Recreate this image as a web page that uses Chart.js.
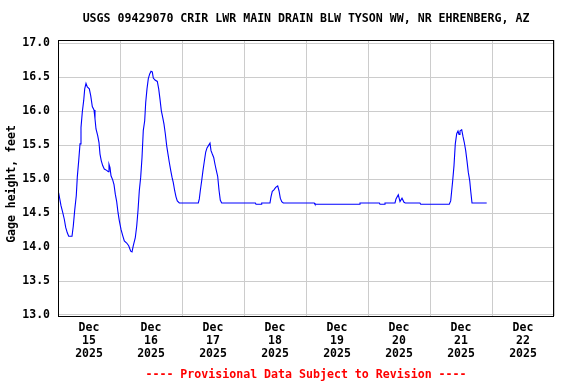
<!DOCTYPE html>
<html>
<head>
<meta charset="utf-8">
<script src="https://cdn.jsdelivr.net/npm/chart.js@4.4.1/dist/chart.umd.min.js"></script>
<style>
html,body{margin:0;padding:0;background:#fff;}
canvas{display:block;}
</style>
</head>
<body>
<canvas id="c" width="576" height="384"></canvas>
<script>
// ---- data (hours since Dec 15 2025 00:00, gage height in feet) ----
const hoursSinceStart = [0.25,1.16,1.82,2.44,2.98,3.60,4.14,5.42,5.92,6.46,7.08,7.47,8.01,8.52,8.90,9.41,9.95,10.34,10.84,11.34,12.12,12.66,13.28,13.94,14.32,14.71,15.37,15.87,16.26,16.76,17.30,17.92,18.85,19.47,19.74,20.13,20.52,21.17,21.68,22.18,22.72,23.23,23.73,24.39,25.05,25.67,26.59,27.37,28.14,28.65,29.15,29.92,30.47,30.97,31.47,32.01,32.52,33.02,33.56,33.95,34.45,34.96,35.50,36.00,36.50,36.89,37.55,38.44,38.98,39.48,39.99,40.53,41.03,41.54,42.08,42.58,43.08,43.63,44.13,44.63,45.17,45.68,46.18,46.96,54.31,54.70,55.08,55.63,56.13,56.63,57.18,57.68,58.18,58.84,59.23,59.73,60.27,60.77,61.28,61.82,62.32,62.83,63.37,76.4,76.65,78.6,78.85,82.06,82.45,82.95,83.50,84.27,85.04,85.55,86.05,86.60,87.21,99.2,99.48,116.6,116.9,124.4,124.65,126.3,126.58,130.45,130.84,131.73,132.39,133.16,133.94,134.44,140.1,140.4,151.47,152.01,152.40,152.79,153.29,153.79,154.34,154.84,155.23,155.61,156.27,156.77,157.28,157.82,158.32,158.83,159.37,159.75,160.26,165.95];
const gageHeight = [14.80,14.61,14.51,14.41,14.29,14.21,14.16,14.16,14.31,14.54,14.76,15.03,15.27,15.52,15.76,15.99,16.16,16.33,16.41,16.36,16.33,16.23,16.07,16.02,15.89,15.74,15.64,15.54,15.37,15.27,15.20,15.15,15.13,15.11,15.22,15.17,15.05,14.99,14.92,14.78,14.67,14.51,14.39,14.26,14.17,14.09,14.06,14.02,13.94,13.93,14.02,14.14,14.31,14.54,14.83,15.03,15.32,15.72,15.86,16.13,16.33,16.48,16.55,16.59,16.58,16.49,16.46,16.44,16.33,16.18,16.01,15.91,15.81,15.67,15.49,15.37,15.25,15.13,15.03,14.95,14.83,14.74,14.68,14.65,14.65,14.71,14.83,14.98,15.13,15.26,15.40,15.46,15.49,15.53,15.42,15.37,15.32,15.22,15.13,15.04,14.84,14.69,14.65,14.65,14.63,14.63,14.65,14.65,14.74,14.82,14.84,14.88,14.90,14.83,14.72,14.67,14.65,14.65,14.63,14.63,14.65,14.65,14.63,14.63,14.65,14.65,14.71,14.77,14.67,14.72,14.66,14.65,14.65,14.63,14.63,14.68,14.83,14.98,15.20,15.52,15.67,15.71,15.66,15.71,15.73,15.63,15.54,15.42,15.27,15.10,14.98,14.83,14.65,14.65];
const dayLabels = ['15','16','17','18','19','20','21','22'];
const monthLabel = 'Dec';
const yearLabel = '2025';
const yTickValues = [13.0,13.5,14.0,14.5,15.0,15.5,16.0,16.5,17.0];
const titleText = 'USGS 09429070 CRIR LWR MAIN DRAIN BLW TYSON WW, NR EHRENBERG, AZ';
const yAxisTitle = 'Gage height, feet';
const footerText = '---- Provisional Data Subject to Revision ----';

const FONT = '"DejaVu Sans Mono", "Liberation Mono", monospace';
const points = hoursSinceStart.map((h, i) => ({x: h, y: gageHeight[i]}));
const dayMidnights = dayLabels.map((d, i) => i * 24).concat([dayLabels.length * 24]);
const dayNoons = dayLabels.map((d, i) => i * 24 + 12);

const decorPlugin = {
  id: 'decor',
  afterDraw(chart) {
    const ctx = chart.ctx;
    const a = chart.chartArea;
    ctx.save();
    ctx.strokeStyle = '#000';
    ctx.lineWidth = 1;
    ctx.strokeRect(Math.round(a.left) + 0.5, Math.round(a.top) + 0.5,
                   Math.round(a.right - a.left) - 1, Math.round(a.bottom - a.top));
    ctx.fillStyle = '#000';
    ctx.font = 'bold 11.6px ' + FONT;
    ctx.textAlign = 'center';
    ctx.textBaseline = 'middle';
    ctx.fillText(titleText, (a.left + a.right) / 2, 19);
    ctx.fillStyle = '#ff0000';
    ctx.fillText(footerText, (a.left + a.right) / 2, 375);
    ctx.fillStyle = '#000';
    ctx.translate(12, 184);
    ctx.rotate(-Math.PI / 2);
    ctx.font = 'bold 11.5px ' + FONT;
    ctx.fillText(yAxisTitle, 0, 0);
    ctx.restore();
  }
};

new Chart(document.getElementById('c'), {
  type: 'line',
  data: {
    datasets: [{
      data: points,
      borderColor: '#0000ff',
      borderWidth: 1.1,
      pointRadius: 0,
      tension: 0,
      fill: false,
      xAxisID: 'x',
      yAxisID: 'y'
    }]
  },
  options: {
    responsive: false,
    animation: false,
    devicePixelRatio: 1,
    layout: { padding: { top: 40, right: 22, bottom: 0, left: 0 } },
    plugins: { legend: { display: false }, tooltip: { enabled: false }, title: { display: false } },
    scales: {
      x: {
        type: 'linear', position: 'bottom', min: 0, max: 192,
        afterBuildTicks(s) { s.ticks = dayMidnights.map(v => ({value: v})); },
        afterFit(s) { s.height = 0; },
        ticks: { display: false },
        grid: { color: '#cccccc', lineWidth: 1, drawTicks: false },
        border: { display: false }
      },
      x2: {
        type: 'linear', position: 'bottom', min: 0, max: 192,
        afterBuildTicks(s) { s.ticks = dayNoons.map(v => ({value: v})); },
        afterFit(s) { s.height = 68; },
        ticks: {
          autoSkip: false, maxRotation: 0, padding: 6, color: '#000',
          font: { family: FONT, weight: 'bold', size: 11.5, lineHeight: 13 / 11.5 },
          callback(v) { const i = dayNoons.indexOf(v); return i < 0 ? '' : [monthLabel, dayLabels[i], yearLabel]; }
        },
        grid: { display: false, drawTicks: false },
        border: { display: false }
      },
      y: {
        type: 'linear', min: 12.985, max: 17.05,
        afterBuildTicks(s) { s.ticks = yTickValues.map(v => ({value: v})); },
        afterFit(s) { s.width = 58; },
        ticks: {
          padding: 8, color: '#000',
          font: { family: FONT, weight: 'bold', size: 11.5 },
          callback(v) { return Number(v).toFixed(1); }
        },
        grid: { color: '#cccccc', lineWidth: 1, drawTicks: false },
        border: { display: false }
      }
    }
  },
  plugins: [decorPlugin]
});
</script>
</body>
</html>
